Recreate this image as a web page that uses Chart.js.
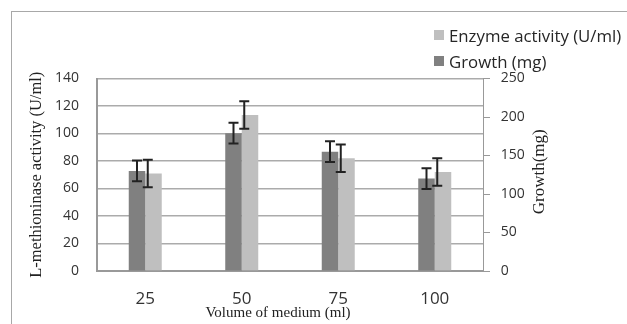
<!DOCTYPE html>
<html><head><meta charset="utf-8">
<script src="https://cdn.jsdelivr.net/npm/chart.js@4"></script>
<style>
html,body{margin:0;padding:0;background:#fff;overflow:hidden}
#wrap{position:relative;width:627px;height:324px;overflow:hidden}
#frame{position:absolute;left:11px;top:11px;width:700px;height:400px;border-left:1px solid #a8a8a8;border-top:1px solid #a8a8a8}
#legend{position:absolute;left:434px;top:22px;font-family:'Open Sans';font-size:16.8px;color:#262626}
.item{display:flex;align-items:center;height:26px;white-space:nowrap}
.sw{width:10px;height:10px;margin-right:5px;flex:none}
canvas{position:absolute;left:0;top:0}
</style></head>
<body><div id="wrap"><div id="frame"></div><canvas id="c" width="627" height="324"></canvas><div id="legend"></div></div>
<script>
const categories = ['25', '50', '75', '100'];
const enzymeActivity = [71, 113.5, 82, 72];
const enzymeError = [10, 10, 10, 10];
const growth = [130, 179, 155, 120];
const growthError = [13.5, 13.5, 13.5, 13.5];
const xTitle = 'Volume of medium (ml)';
const leftTitle = 'L-methioninase activity (U/ml)';
const rightTitle = 'Growth(mg)';

const errorBars = {
  id: 'errorBars',
  afterDatasetsDraw(chart) {
    const ctx = chart.ctx;
    ctx.save();
    ctx.strokeStyle = '#222';
    ctx.lineWidth = 2;
    chart.data.datasets.forEach((ds, di) => {
      const meta = chart.getDatasetMeta(di);
      const scale = chart.scales[ds.yAxisID];
      meta.data.forEach((bar, i) => {
        const v = ds.data[i], e = ds.errors[i];
        const x = ds.errOffset ? bar.x - bar.width / 2 + ds.errOffset : bar.x;
        const yt = scale.getPixelForValue(v + e);
        const yb = scale.getPixelForValue(v - e);
        const cw = 5;
        ctx.beginPath();
        ctx.moveTo(x, yt); ctx.lineTo(x, yb);
        ctx.moveTo(x - cw, yt); ctx.lineTo(x + cw, yt);
        ctx.moveTo(x - cw, yb); ctx.lineTo(x + cw, yb);
        ctx.stroke();
      });
    });
    ctx.restore();
  }
};

// Titles drawn like the original: right title reads bottom-to-top, x title centred on the whole figure
const axisTitles = {
  id: 'axisTitles',
  afterDraw(chart) {
    const ctx = chart.ctx;
    const ca = chart.chartArea;
    const y2 = chart.scales.y2;
    ctx.save();
    ctx.fillStyle = '#222';
    ctx.textAlign = 'center';
    ctx.textBaseline = 'middle';
    ctx.font = '15px "Liberation Serif"';
    ctx.fillText(xTitle, ca.left + (ca.right - ca.left) / 2 - 12, chart.height - 11);
    ctx.translate(y2.right - 87, (ca.top + ca.bottom) / 2 - 3);
    ctx.rotate(-Math.PI / 2);
    ctx.font = '17px "Liberation Serif"';
    ctx.fillText(rightTitle, 0, 0);
    ctx.restore();
  }
};

const htmlLegend = {
  id: 'htmlLegend',
  afterUpdate(chart) {
    const items = Chart.defaults.plugins.legend.labels.generateLabels(chart).reverse();
    const box = document.getElementById('legend');
    box.innerHTML = '';
    items.forEach(it => {
      const row = document.createElement('div');
      row.className = 'item';
      const sw = document.createElement('span');
      sw.className = 'sw';
      sw.style.background = it.fillStyle;
      const tx = document.createElement('span');
      tx.textContent = it.text;
      row.appendChild(sw); row.appendChild(tx);
      box.appendChild(row);
    });
  }
};

const tickFont = {family: 'Open Sans', size: 14};
const titleColor = '#222';

new Chart(document.getElementById('c'), {
  type: 'bar',
  data: {
    labels: categories,
    datasets: [
      {label: 'Growth (mg)', data: growth, errors: growthError, backgroundColor: '#808080', yAxisID: 'y2'},
      {label: 'Enzyme activity (U/ml)', data: enzymeActivity, errors: enzymeError, errOffset: 2.5, backgroundColor: '#bfbfbf', yAxisID: 'y'}
    ]
  },
  options: {
    responsive: false,
    animation: false,
    layout: {padding: {top: 78.5, left: 0, right: 0, bottom: 0}},
    plugins: {legend: {display: false}, tooltip: {enabled: false}},
    datasets: {bar: {categoryPercentage: 0.342, barPercentage: 1}},
    scales: {
      x: {
        grid: {display: true, drawOnChartArea: false, drawTicks: false},
        border: {display: true, color: '#999', width: 2},
        ticks: {padding: 18, font: {family: 'Open Sans', size: 17}, color: '#333'},
        title: {display: false, text: xTitle},
        afterFit(s) { s.height = 53; }
      },
      y: {
        position: 'left', min: 0, max: 140,
        ticks: {stepSize: 20, padding: 18, font: tickFont, color: '#333'},
        grid: {color: '#ababab', lineWidth: 1.5, drawTicks: false},
        border: {color: '#999', width: 2},
        title: {display: true, text: leftTitle, font: {family: 'Liberation Serif', size: 16.5}, color: titleColor, padding: {top: 27, bottom: 0}},
        afterFit(s) { s.width = 97; }
      },
      y2: {
        position: 'right', min: 0, max: 250,
        ticks: {stepSize: 50, padding: 10.7, font: tickFont, color: '#333'},
        grid: {drawOnChartArea: false, drawTicks: true, tickLength: 7, color: '#999', lineWidth: 1},
        border: {color: '#999', width: 1},
        title: {display: false, text: rightTitle},
        afterFit(s) { s.width = 144; }
      }
    }
  },
  plugins: [errorBars, axisTitles, htmlLegend]
});
</script>
</body></html>
